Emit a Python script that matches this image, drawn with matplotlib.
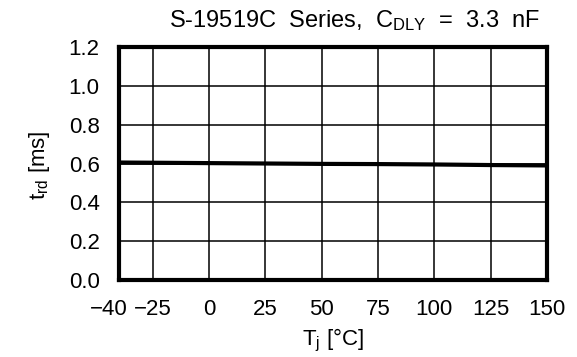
""" t_rd vs Tj chart """
import matplotlib
matplotlib.use('Agg')
from matplotlib import pyplot as plt
from matplotlib import transforms

plt.rcParams['font.family'] = ['Liberation Sans', 'DejaVu Sans']
plt.rcParams['mathtext.fontset'] = 'custom'
plt.rcParams['mathtext.rm'] = 'Liberation Sans'
plt.rcParams['mathtext.it'] = 'Liberation Sans'

# data
temps = [-40, -25, 0, 25, 50, 75, 100, 125, 150]
trd = [0.605, 0.604, 0.602, 0.600, 0.598, 0.597, 0.595, 0.592, 0.590]
xticks = [-40, -25, 0, 25, 50, 75, 100, 125, 150]
yticks = [0.0, 0.2, 0.4, 0.6, 0.8, 1.0, 1.2]

W, H = 577, 357
fig = plt.figure(figsize=(W / 100, H / 100), dpi=100)
ax = fig.add_axes([119 / W, 1 - 280 / H, 428 / W, 233 / H])

ax.plot(temps, trd, color='black', linewidth=3, solid_capstyle='butt', zorder=3)

ax.set_xlim(-40, 150)
ax.set_ylim(0, 1.2)
ax.set_xticks(xticks)
ax.set_yticks(yticks)
ax.set_yticklabels(['%.1f' % v for v in yticks])
ax.tick_params(length=0, labelsize=16, pad=14)
ax.grid(True, color='black', linewidth=1.1)
for s in ax.spines.values():
    s.set_linewidth(3)
    s.set_zorder(4)

# -40 label pushed left so it clears -25
lbl = ax.get_xticklabels()[0]
lbl.set_transform(lbl.get_transform() + transforms.ScaledTranslation(-10 / 100, 0, fig.dpi_scale_trans))

fig.text(333 / W, 1 - 340 / H, r'T$_{\mathrm{j}}$ [°C]', fontsize=16,
         ha='center', va='center')
fig.text(40 / W, 1 - 165 / H, r't$_{\mathrm{rd}}$ [ms]', fontsize=16,
         ha='center', va='center', rotation=90)
fig.text(540 / W, 1 - 21 / H,
         r'S-19519C  Series,  C$_{\mathrm{DLY}}$  =  3.3  nF',
         ha='right', va='center', fontsize=17)

fig.savefig('out.png', dpi=100)
